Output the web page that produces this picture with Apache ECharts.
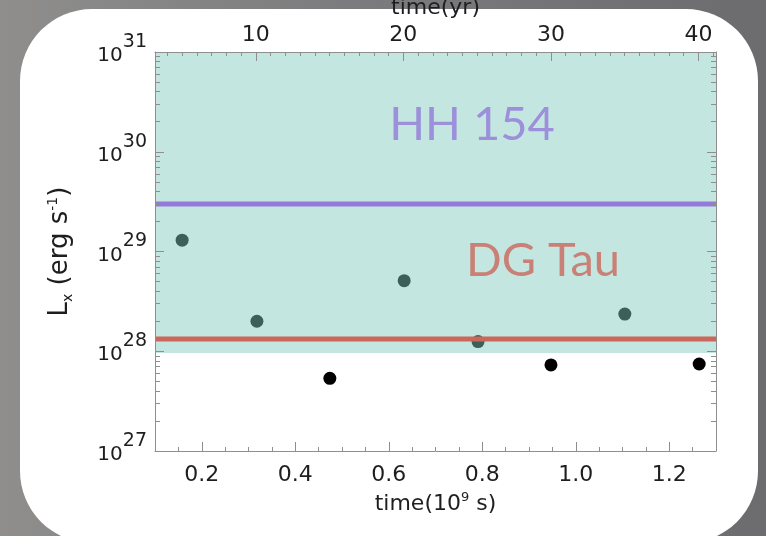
<!DOCTYPE html>
<html>
<head>
<meta charset="utf-8">
<script src="https://cdn.jsdelivr.net/npm/echarts@6/dist/echarts.min.js"></script>
<style>
  html, body { margin: 0; padding: 0; }
  body {
    width: 766px; height: 536px; overflow: hidden; position: relative;
    background: linear-gradient(to right, #8f8e8d 0%, #7c7c7e 45%, #6c6c6f 100%);
  }
  .card {
    position: absolute; left: 20px; top: 9px; width: 738px; height: 534px;
    border-radius: 72px; background: #fff;
  }
  #chart { position: absolute; left: 0; top: 0; width: 766px; height: 536px; }
</style>
</head>
<body>
<div class="card"></div>
<div id="chart"></div>
<script>
// observations, time in 10^9 s, Lx in erg/s
const timeGs = [0.158, 0.318, 0.474, 0.633, 0.791, 0.947, 1.105, 1.264]
const lumX = [1.3e29, 2.0e28, 5.35e27, 5.1e28, 1.25e28, 7.3e27, 2.36e28, 7.45e27]

// reference levels
const levelNames = ['HH 154', 'DG Tau']
const levelValues = [3.0e29, 1.33e28]
const levelColors = ['#937ad9', '#cb665b']
const labelX = [0.778, 0.93]
const labelY = [1.86e30, 8.1e28]

// shaded band (Lx range)
const bandRange = [9.6e27, 1e31]

// axes
const xMin = 0.1
const xMax = 1.3
const xMajorTicks = [0.2, 0.4, 0.6, 0.8, 1.0, 1.2]
const yrTicks = [10, 20, 30, 40]
const yDecades = [1e27, 1e28, 1e29, 1e30, 1e31]
const secPerYear = 3.156e7

const yrMin = xMin * 1e9 / secPerYear
const yrMax = xMax * 1e9 / secPerYear

const xMinorTicks = []
for (let v = 0.1; v < 1.301; v += 0.05) xMinorTicks.push(+v.toFixed(2))
const yrMinorTicks = []
for (let y = Math.ceil(yrMin); y <= yrMax; y++) yrMinorTicks.push(y)
const yMinorTicks = []
yDecades.slice(0, -1).forEach((d) => {
  for (let k = 2; k <= 9; k++) yMinorTicks.push(k * d)
})
// pull the end decades a hair inside the extent so they survive the log rounding
const lastDecade = yDecades.length - 1
const yDecadeMarks = yDecades.map((d, i) =>
  i === 0 ? d * (1 + 1e-9) : i === lastDecade ? d * (1 - 1e-9) : d)

const font = 'DejaVu Sans'
const ink = '#1e1e1e'
const frame = '#8e8e8e'

const chart = echarts.init(document.getElementById('chart'), null, { renderer: 'canvas' })

function plainX(pos, min, max, ticks, len) {
  return {
    type: 'value', position: pos, min: min, max: max, z: 10,
    axisLine: { show: false },
    axisTick: { show: true, inside: true, length: len, customValues: ticks, lineStyle: { color: frame } },
    axisLabel: { show: false },
    splitLine: { show: false }
  }
}

function plainY(pos, ticks, len) {
  return {
    type: 'log', logBase: 10, position: pos, min: yDecades[0], max: yDecades[lastDecade], z: 10,
    axisLine: { show: false },
    axisTick: { show: true, inside: true, length: len, customValues: ticks, lineStyle: { color: frame } },
    axisLabel: { show: false },
    splitLine: { show: false }
  }
}

const option = {
  backgroundColor: 'transparent',
  animation: false,
  grid: { left: 155, top: 52, right: 50, bottom: 85, outerBoundsMode: 'none' },
  xAxis: [
    {
      type: 'value', position: 'bottom', min: xMin, max: xMax, z: 10,
      axisLine: { show: true, onZero: false, lineStyle: { color: frame, width: 1 } },
      axisTick: { show: true, inside: true, length: 9, customValues: xMajorTicks, lineStyle: { color: frame } },
      axisLabel: {
        customValues: xMajorTicks, formatter: (v) => v.toFixed(1),
        showMinLabel: true, showMaxLabel: true,
        margin: 13, fontSize: 22, fontFamily: font, color: ink
      },
      splitLine: { show: false },
      name: '{t|time(10}{s|9}{t| s)}',
      nameLocation: 'middle',
      nameGap: 39,
      nameTextStyle: {
        rich: {
          t: { fontSize: 22, fontFamily: font, color: ink },
          s: { fontSize: 13, fontFamily: font, color: ink, padding: [0, 0, 13, 0] }
        }
      }
    },
    plainX('bottom', xMin, xMax, xMinorTicks, 4),
    {
      type: 'value', position: 'top', min: yrMin, max: yrMax, z: 10,
      axisLine: { show: true, onZero: false, lineStyle: { color: frame, width: 1 } },
      axisTick: { show: true, inside: true, length: 9, customValues: yrTicks, lineStyle: { color: frame } },
      axisLabel: {
        customValues: yrTicks, showMinLabel: true, showMaxLabel: true,
        margin: 6, fontSize: 22, fontFamily: font, color: ink
      },
      splitLine: { show: false },
      name: 'time(yr)',
      nameLocation: 'middle',
      nameGap: 24,
      nameTextStyle: { fontSize: 22, fontFamily: font, color: ink }
    },
    plainX('top', yrMin, yrMax, yrMinorTicks, 4)
  ],
  yAxis: [
    {
      type: 'log', logBase: 10, position: 'left', z: 10,
      min: yDecades[0], max: yDecades[lastDecade],
      axisLine: { show: true, onZero: false, lineStyle: { color: frame, width: 1 } },
      axisTick: { show: true, inside: true, length: 9, customValues: yDecadeMarks, lineStyle: { color: frame } },
      axisLabel: {
        customValues: yDecadeMarks,
        showMinLabel: true, showMaxLabel: true,
        margin: 8,
        formatter: (v) => '{b|10}{s|' + Math.round(Math.log10(v)) + '}',
        rich: {
          b: { fontSize: 20, fontFamily: font, color: ink, padding: [8, 0, 0, 0] },
          s: { fontSize: 19, fontFamily: font, color: ink, padding: [0, 0, 20, 0] }
        }
      },
      splitLine: { show: false },
      name: '{l|L}{sub|x}{l| (erg s}{sup|-1}{l|)}',
      nameLocation: 'middle',
      nameGap: 80,
      nameTextStyle: {
        rich: {
          l: { fontSize: 26, fontFamily: font, color: ink },
          sub: { fontSize: 14, fontFamily: font, color: ink, padding: [16, 0, 0, 0] },
          sup: { fontSize: 14, fontFamily: font, color: ink, padding: [0, 0, 14, 0] }
        }
      }
    },
    plainY('left', yMinorTicks, 5),
    {
      type: 'log', logBase: 10, position: 'right', z: 10,
      min: yDecades[0], max: yDecades[lastDecade],
      axisLine: { show: true, onZero: false, lineStyle: { color: frame, width: 1 } },
      axisTick: { show: true, inside: true, length: 9, customValues: yDecadeMarks, lineStyle: { color: frame } },
      axisLabel: { show: false },
      splitLine: { show: false }
    },
    plainY('right', yMinorTicks, 5)
  ],
  series: [
    {
      type: 'scatter',
      z: 2,
      symbolSize: 13,
      itemStyle: { color: '#000', opacity: 1 },
      data: timeGs.map((t, i) => [t, lumX[i]])
    },
    {
      type: 'custom',
      z: 3,
      silent: true,
      data: [[xMin, bandRange[0], xMax, bandRange[1]]],
      encode: { x: [0, 2], y: [1, 3] },
      renderItem: (params, api) => {
        const p0 = api.coord([api.value(0), api.value(3)])
        const p1 = api.coord([api.value(2), api.value(1)])
        return {
          type: 'rect',
          shape: { x: p0[0], y: p0[1], width: p1[0] - p0[0], height: p1[1] - p0[1] },
          style: { fill: 'rgba(128, 204, 190, 0.47)' }
        }
      }
    },
    ...levelValues.map((v, i) => ({
      type: 'line',
      z: 4,
      silent: true,
      symbol: 'none',
      lineStyle: { color: levelColors[i], width: 5 },
      data: [[xMin, v], [xMax, v]]
    })),
    {
      type: 'scatter',
      z: 5,
      silent: true,
      symbolSize: 0,
      data: levelNames.map((n, i) => ({
        name: n,
        value: [labelX[i], labelY[i]],
        label: { color: levelColors[i] }
      })),
      label: {
        show: true,
        position: 'inside',
        formatter: '{b}',
        fontSize: 47,
        fontFamily: 'Lato'
      }
    }
  ]
}

chart.setOption(option)
</script>
</body>
</html>
